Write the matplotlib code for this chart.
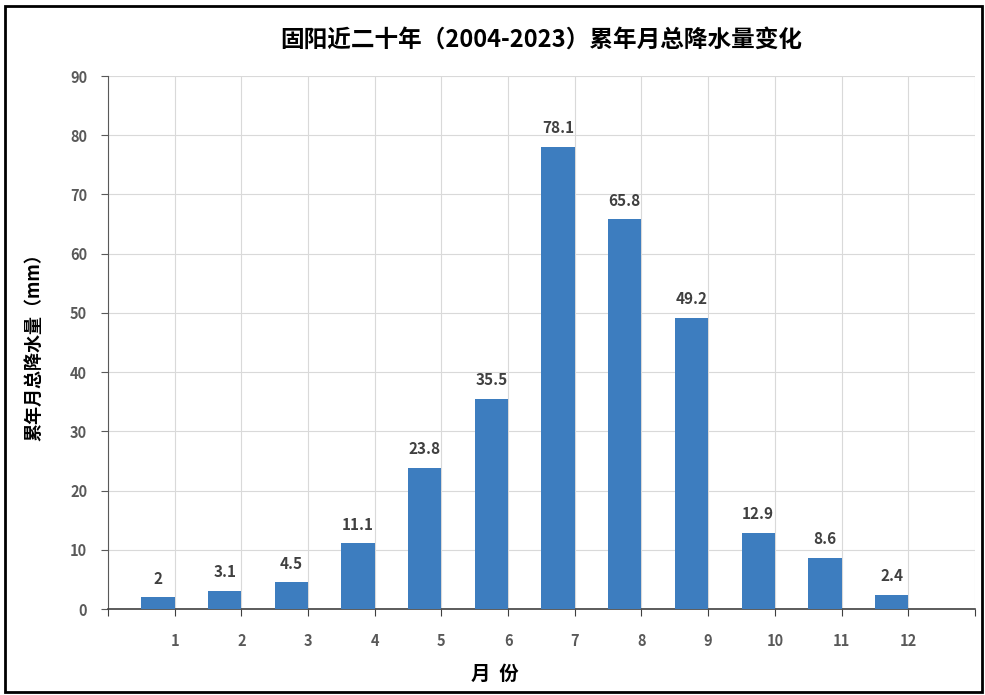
import matplotlib
matplotlib.use("Agg")
import matplotlib.pyplot as plt
from matplotlib.patches import Rectangle

plt.rcParams['font.family'] = ['Noto Sans CJK SC', 'DejaVu Sans']

months = ["1", "2", "3", "4", "5", "6", "7", "8", "9", "10", "11", "12"]
rain = [2, 3.1, 4.5, 11.1, 23.8, 35.5, 78.1, 65.8, 49.2, 12.9, 8.6, 2.4]
rain_labels = ["2", "3.1", "4.5", "11.1", "23.8", "35.5", "78.1", "65.8", "49.2", "12.9", "8.6", "2.4"]

BAR_COLOR = "#3d7dbf"
TICK_COLOR = "#595959"
LABEL_COLOR = "#404040"
GRID_COLOR = "#d9d9d9"

fig = plt.figure(figsize=(9.85, 6.95), dpi=100)
ax = fig.add_axes([0.1096, 0.1237, 0.8802, 0.7669])

# bars sit in the left half of each category slot
pos = [i + 1 for i in range(len(months))]
bar_x = [p - 0.25 for p in pos]
bars = ax.bar(bar_x, rain, width=0.5, color=BAR_COLOR, zorder=3)

for x, v, s in zip(bar_x, rain, rain_labels):
    ax.text(x, v + 1.8, s, ha="center", va="bottom", fontsize=11,
            fontweight="bold", color=LABEL_COLOR)

ax.set_xlim(0, 13)
ax.set_ylim(0, 90)
ax.set_xticks(range(0, 14))
ax.set_xticklabels([""] + months + [""])
ax.set_yticks(range(0, 91, 10))

ax.grid(True, color=GRID_COLOR, linewidth=0.8, zorder=0)
for s in ["top", "right"]:
    ax.spines[s].set_visible(False)
ax.spines["left"].set_color("#595959")
ax.spines["bottom"].set_color("#404040")
ax.spines["bottom"].set_linewidth(1.2)
ax.tick_params(axis="x", length=5, pad=12, colors="#404040", labelcolor=TICK_COLOR)
ax.tick_params(axis="y", length=5, pad=10, colors="#595959", labelcolor=TICK_COLOR)
for lab in ax.get_xticklabels() + ax.get_yticklabels():
    lab.set_fontweight("bold")
    lab.set_fontsize(10.5)

ax.set_ylabel("累年月总降水量（mm）", fontsize=13, fontweight="bold",
              color="black", labelpad=19)

fig.text(0.502, 0.030, "月  份", ha="center", va="center",
         fontsize=14, fontweight="bold")
fig.text(0.55, 0.943, "固阳近二十年（2004-2023）累年月总降水量变化",
         ha="center", va="center", fontsize=17, fontweight="bold")

# outer frame
fig.patches.append(Rectangle((0.005, 0.004), 0.992, 0.988, transform=fig.transFigure,
                             fill=False, edgecolor="black", linewidth=2))

fig.savefig("out.png", dpi=100)
